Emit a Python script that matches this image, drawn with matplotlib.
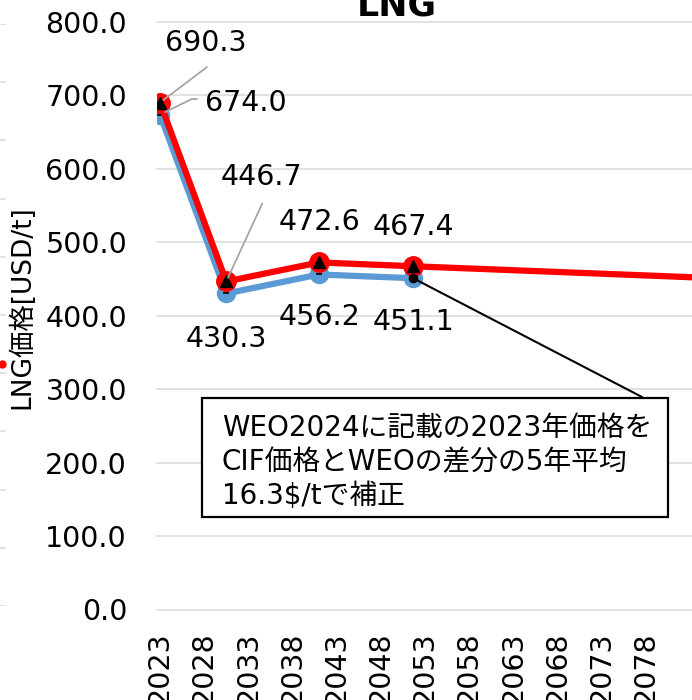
import numpy as np
import matplotlib.pyplot as plt
from matplotlib.patches import Rectangle
from matplotlib.ticker import FormatStrFormatter

plt.rcParams["font.family"] = ["DejaVu Sans", "Noto Sans CJK JP"]

# LNG price series (USD/t)
years = [2023, 2030.5, 2041, 2051.65]
price_weo = [674.0, 430.3, 456.2, 451.1]          # WEO2024 as published
years_adj = [2023, 2030.5, 2041, 2051.65, 2100]
price_adj = [690.3, 446.7, 472.6, 467.4, 444.4]   # corrected with CIF difference
tick_years = list(range(2023, 2079, 5))

note_lines = ["WEO2024に記載の2023年価格を",
              "CIF価格とWEOの差分の5年平均",
              "16.3$/tで補正"]

# neighbouring panel (only its right edge shows)
side_val = [4.15]

W, H = 692, 700
fig = plt.figure(figsize=(W / 100, H / 100), dpi=100)
ax = fig.add_axes([157 / W, 90.5 / H, 1 - 157 / W, 587.5 / H])

RED = "#ff0000"
BLUE = "#5b9bd5"

ax.plot(years, price_weo, color=BLUE, lw=4.5, marker="o", ms=13,
        mfc=BLUE, mec=BLUE, zorder=3, solid_capstyle="round")
ax.plot(years, price_weo, ls="none", marker="_", ms=5, mew=1.2,
        color="black", zorder=3.1)
ax.plot(years_adj, price_adj, color=RED, lw=4.5, marker="o", ms=14,
        mfc=RED, mec=RED, zorder=4, solid_capstyle="round")
ax.plot(years_adj, price_adj, ls="none", marker="^", ms=9,
        color="black", zorder=4.1)

ax.set_xlim(2022.66, 2083.2)
ax.set_ylim(0, 800)
ax.set_yticks(np.arange(0, 801, 100))
ax.yaxis.set_major_formatter(FormatStrFormatter("%.1f"))
ax.set_xticks(tick_years)
ax.set_xticklabels([str(y) for y in tick_years], rotation=90)
ax.tick_params(axis="y", length=0, pad=21.6, labelsize=20.5)
ax.tick_params(axis="x", length=0, pad=16, labelsize=20.5)
for s in ax.spines.values():
    s.set_visible(False)
ax.grid(axis="y", color="#d9d9d9", lw=1.1)
ax.set_axisbelow(True)
for gl in ax.get_ygridlines():
    gl.set_clip_on(False)

# data labels: (text offset in pixels, leader start offset or None)
adj_offsets = [((46, 59.5), (47, 35.5)), ((35, 104), (36, 78)),
               ((0, 40), None), ((0, 39), None)]
for x, v, (off, lead) in zip(years_adj, price_adj, adj_offsets):
    ax.annotate(f"{v:.1f}", (x, v), xytext=off, textcoords="offset pixels",
                ha="center", va="center", fontsize=20.5, zorder=6)
    if lead:
        ax.annotate("", (x, v), xytext=lead, textcoords="offset pixels",
                    arrowprops=dict(arrowstyle="-", color="#a6a6a6", lw=1.3,
                                    shrinkA=0, shrinkB=3), zorder=5)

weo_offsets = [(86, 11.5), (0, -45.5), (0, -42.5), (0, -44)]
for x, v, off in zip(years, price_weo, weo_offsets):
    ax.annotate(f"{v:.1f}", (x, v), xytext=off, textcoords="offset pixels",
                ha="center", va="center", fontsize=20.5, zorder=6)
# bent leader for the first WEO label
ax.annotate("", (years[0], price_weo[0]), xytext=(37, 15.5),
            textcoords="offset pixels",
            arrowprops=dict(arrowstyle="-", color="#a6a6a6", lw=1.3,
                            shrinkA=0, shrinkB=4,
                            connectionstyle="angle,angleA=0,angleB=26,rad=0"),
            zorder=5)

# callout connector to the 2050 WEO point
ax.annotate("", (years[-1], price_weo[-1]), xytext=(642, H - 397),
            textcoords="figure pixels",
            arrowprops=dict(arrowstyle="-", color="black", lw=1.5,
                            shrinkA=0, shrinkB=0), zorder=7)
ax.plot(years[-1], price_weo[-1], "o", color="black", ms=6, zorder=7)

box = Rectangle((202 / W, 1 - 517 / H), 466 / W, 119 / H,
                transform=fig.transFigure, facecolor="white",
                edgecolor="black", lw=1.6, zorder=5)
fig.add_artist(box)
for line, base in zip(note_lines, [436, 470, 504]):
    fig.text(222 / W, 1 - base / H, line, fontsize=20, ha="left",
             va="baseline", zorder=6)

fig.text(397 / W, 1 - 16 / H, "LNG", ha="center", va="baseline",
         fontsize=25, fontweight="bold")
fig.text(22 / W, 1 - 307 / H, "LNG価格[USD/t]", rotation=90,
         ha="center", va="center", fontsize=19)

# edge of the neighbouring chart
side = fig.add_axes([-69 / W, 94 / H, 75 / W, 582 / H])
side.set_xlim(0, 1)
side.set_ylim(0, 10)
side.set_yticks(np.arange(0, 11, 1))
side.set_xticks([])
side.tick_params(axis="y", length=0, labelleft=False)
side.grid(axis="y", color="#d9d9d9", lw=1.1)
for s in side.spines.values():
    s.set_visible(False)
side.patch.set_alpha(0)
side.plot([0.953], side_val, "o", color=RED, ms=5, clip_on=False)

fig.savefig("out.png", dpi=100)
